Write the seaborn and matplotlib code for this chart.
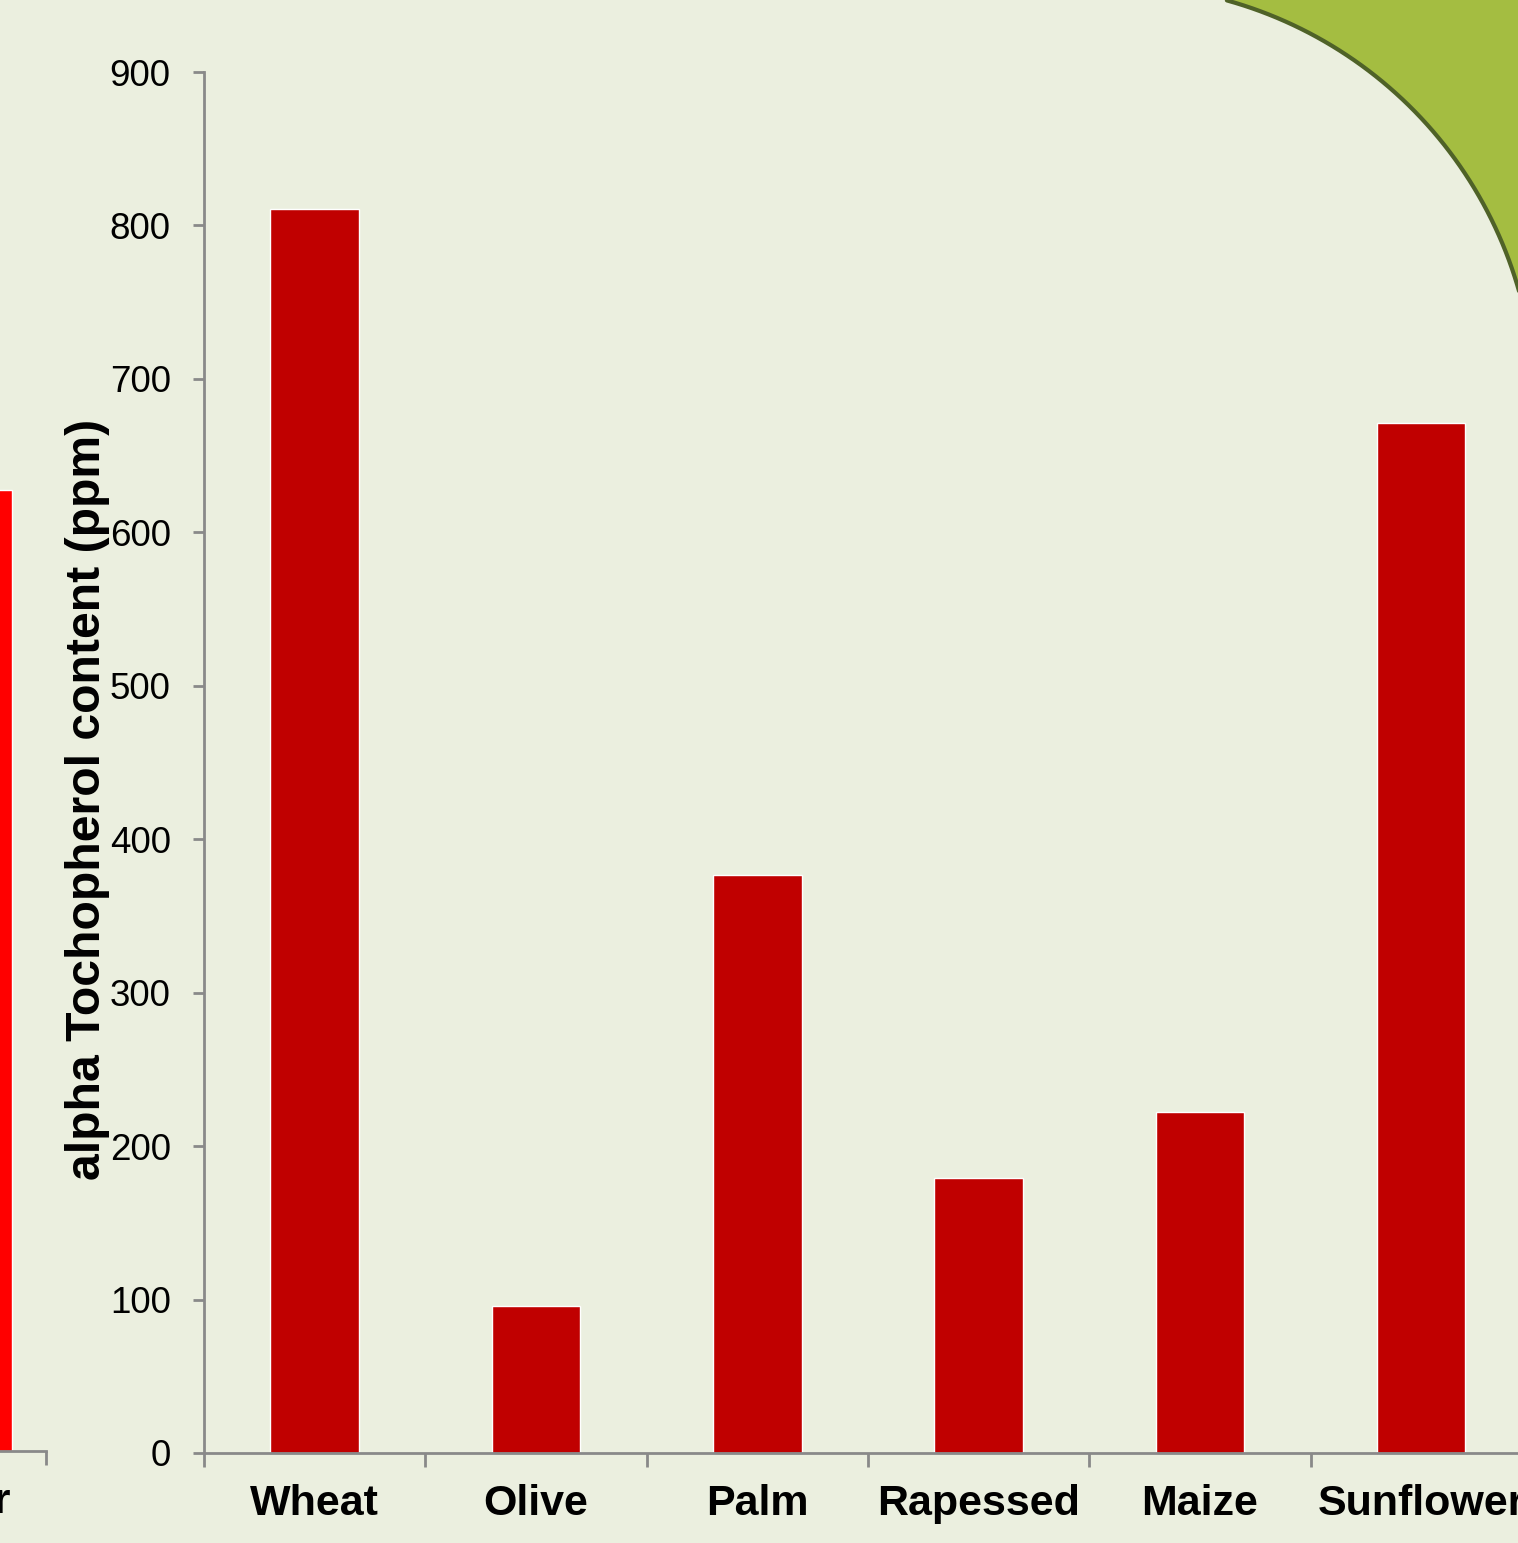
import numpy as np
import pandas as pd
import matplotlib
matplotlib.use("Agg")
import matplotlib.pyplot as plt
from matplotlib.patches import Polygon
import seaborn as sns

# ---- data ----
categories = ["Wheat", "Olive", "Palm", "Rapessed", "Maize", "Sunflower"]
values = [811, 96, 377, 179, 222, 671]
left_categories = ["Sunflower"]
left_values = [626]
y_ticks = [0, 100, 200, 300, 400, 500, 600, 700, 800, 900]
y_label = "alpha Tochopherol content (ppm)"

BG = "#EBEFDF"
BAR = "#C00000"
LEFT_BAR = "#FF0000"
AXIS = "#898989"

sns.set_style("white")
plt.rcParams["font.family"] = ["Liberation Sans", "DejaVu Sans"]
plt.rcParams["text.color"] = "black"
plt.rcParams["axes.labelcolor"] = "black"
plt.rcParams["xtick.color"] = "black"
plt.rcParams["ytick.color"] = "black"

W, H = 1518, 1543
fig = plt.figure(figsize=(W / 100, H / 100), dpi=100)
fig.patch.set_facecolor(BG)

def px_axes(left, right, top, bottom):
    return fig.add_axes([left / W, (H - bottom) / H, (right - left) / W, (bottom - top) / H])

def style(ax):
    ax.set_facecolor("none")
    for s in ["top", "right"]:
        ax.spines[s].set_visible(False)
    for s in ["left", "bottom"]:
        ax.spines[s].set_color(AXIS)
        ax.spines[s].set_linewidth(2.0)

XFS = 31
# ---- left partial chart ----
axl = px_axes(-230, 46, 70, 1451)
dfl = pd.DataFrame({"cat": left_categories, "val": left_values})
sns.barplot(data=dfl, x="cat", y="val", color=LEFT_BAR, saturation=1, width=0.754, ax=axl)
style(axl)
axl.spines["left"].set_visible(False)
axl.set_ylim(0, 900)
axl.set_xlim(-0.5, 0.5)
axl.set_yticks([])
axl.set_xlabel("")
axl.set_ylabel("")
axl.set_xticks([0])
axl.set_xticklabels(left_categories, fontsize=XFS, fontweight="bold", color="black")
axl.tick_params(axis="x", which="major", bottom=True, length=0, pad=22)
axl.set_xticks([-0.5, 0.5], minor=True)
axl.tick_params(axis="x", which="minor", bottom=True, length=10, width=2.0, color=AXIS, direction="out")

# ---- main chart ----
ax = px_axes(204, 204 + 6 * 221.3, 72, 1453)
df = pd.DataFrame({"cat": categories, "val": values})
sns.barplot(data=df, x="cat", y="val", color=BAR, saturation=1, width=0.4, ax=ax)
style(ax)
ax.set_ylim(0, 900)
ax.set_xlim(-0.5, len(categories) - 0.5)
ax.set_yticks(y_ticks)
ax.set_yticklabels([str(t) for t in y_ticks], fontsize=26.5, color="black")
ax.tick_params(axis="y", left=True, length=8, width=2.0, color=AXIS, pad=16, direction="out")
ax.set_xticks(range(len(categories)))
ax.set_xticklabels(categories, fontsize=XFS, fontweight="bold", color="black")
ax.tick_params(axis="x", which="major", bottom=True, length=0, pad=22)
ax.set_xticks(np.arange(-0.5, len(categories)), minor=True)
ax.tick_params(axis="x", which="minor", bottom=True, length=10, width=2.0, color=AXIS, direction="out")
ax.set_xlabel("")
ax.set_ylabel(y_label, fontsize=34.7, fontweight="bold", color="black")
ax.yaxis.set_label_coords((110 - 204) / (6 * 221.3), (1453 - 799) / 1381)

# ---- decorative green corner ----
cx, cy, r = 1114, 406, 421
th = np.linspace(np.arctan2(406 - 0, 1227 - 1114), np.arctan2(406 - 300, np.sqrt(r**2 - 106**2)), 200)
xs = cx + r * np.cos(th)
ys = cy - r * np.sin(th)
pts_arc = [(x, H - y) for x, y in zip(xs, ys)]
poly = Polygon(pts_arc + [(W + 5, H - 300), (W + 5, H + 5), (1227, H + 5)], closed=True,
               facecolor="#A4BD41", edgecolor="none", transform=None, zorder=5)
fig.add_artist(poly)
arc_line = plt.Line2D([p[0] for p in pts_arc], [p[1] for p in pts_arc], color="#4F6228",
                      linewidth=3, transform=None, zorder=6)
fig.add_artist(arc_line)

fig.savefig("out.png", dpi=100, facecolor=BG)
